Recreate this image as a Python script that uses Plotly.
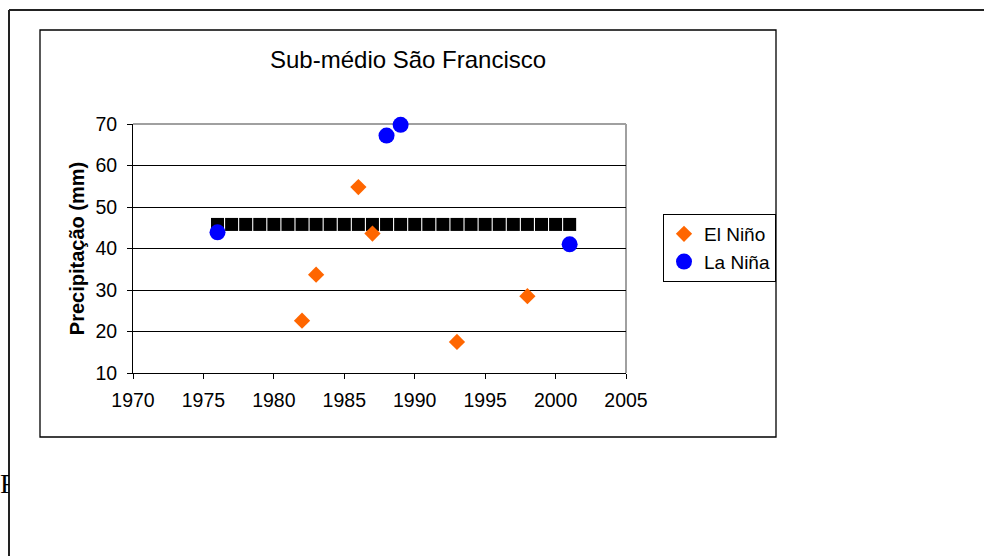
import plotly.graph_objects as go

# ---- data ----
nino_years = [1982, 1983, 1986, 1987, 1993, 1998]
nino_vals = [22.6, 33.7, 54.8, 43.6, 17.5, 28.5]
nina_years = [1976, 1988, 1989, 2001]
nina_vals = [43.9, 67.2, 69.8, 41.0]
mean_years = [1976, 1977, 1978, 1979, 1980, 1981, 1982, 1983, 1984, 1985, 1986, 1987, 1988,
              1989, 1990, 1991, 1992, 1993, 1994, 1995, 1996, 1997, 1998, 1999, 2000, 2001]
mean_vals = [45.8, 45.8, 45.8, 45.8, 45.8, 45.8, 45.8, 45.8, 45.8, 45.8, 45.8, 45.8, 45.8,
             45.8, 45.8, 45.8, 45.8, 45.8, 45.8, 45.8, 45.8, 45.8, 45.8, 45.8, 45.8, 45.8]
title_text = "Sub-médio São Francisco"
y_title = "Precipitação (mm)"
x_ticks = [1970, 1975, 1980, 1985, 1990, 1995, 2000, 2005]
y_ticks = [10, 20, 30, 40, 50, 60, 70]

# ---- layout geometry (pixels) ----
W, H = 984, 556
L, R, T, B = 133, 626, 124, 373
PW, PH = R - L, B - T


def px(x):
    return (x - L) / PW


def py(y):
    return (B - y) / PH


FONT = "Liberation Sans, Arial, sans-serif"

fig = go.Figure()
fig.add_trace(go.Scatter(
    x=mean_years, y=mean_vals, mode="markers", showlegend=False,
    marker=dict(symbol="square", size=13, color="black"), cliponaxis=False))
fig.add_trace(go.Scatter(
    x=nino_years, y=nino_vals, mode="markers", name="El Niño",
    marker=dict(symbol="diamond", size=12.5, color="#FF6600"), cliponaxis=False))
fig.add_trace(go.Scatter(
    x=nina_years, y=nina_vals, mode="markers", name="La Niña",
    marker=dict(symbol="circle", size=16, color="#0000FF"), cliponaxis=False))

shapes = [
    # outer page frame
    dict(type="line", xref="paper", yref="paper", x0=px(9), x1=px(990), y0=py(10), y1=py(10),
         line=dict(color="#222", width=2), layer="above"),
    dict(type="line", xref="paper", yref="paper", x0=px(9), x1=px(9), y0=py(10), y1=py(560),
         line=dict(color="#222", width=2), layer="above"),
    # chart box
    dict(type="rect", xref="paper", yref="paper", x0=px(40), x1=px(776), y0=py(437), y1=py(30),
         line=dict(color="black", width=1.3), layer="below"),
    # plot area top/right border (gray)
    dict(type="line", xref="paper", yref="paper", x0=0, x1=1, y0=1, y1=1,
         line=dict(color="#a0a0a0", width=2), layer="between"),
    dict(type="line", xref="paper", yref="paper", x0=1, x1=1, y0=0, y1=1,
         line=dict(color="#a0a0a0", width=2), layer="between"),
]

annotations = [
    dict(text=title_text, xref="paper", yref="paper", x=px(408), y=py(60),
         xanchor="center", yanchor="middle", showarrow=False,
         font=dict(family=FONT, size=24, color="black")),
    dict(text="F", xref="paper", yref="paper", x=px(-2), y=py(483),
         xanchor="left", yanchor="middle", showarrow=False, width=9, align="left",
         font=dict(family="Liberation Serif, Times New Roman, serif", size=28, color="black")),
]

fig.update_layout(
    width=W, height=H, autosize=False,
    margin=dict(l=L, r=W - R, t=T, b=H - B, pad=0),
    paper_bgcolor="white", plot_bgcolor="white",
    font=dict(family=FONT, size=19, color="black"),
    shapes=shapes, annotations=annotations,
    legend=dict(x=px(719.5), y=py(248), xanchor="center", yanchor="middle",
                bordercolor="black", borderwidth=1, bgcolor="white",
                font=dict(family=FONT, size=19, color="black"),
                itemwidth=30, tracegroupgap=0),
    xaxis=dict(range=[1970, 2005], tickvals=x_ticks, ticktext=[str(v) for v in x_ticks],
               ticks="outside", ticklen=5, tickcolor="black", showline=True,
               linecolor="black", linewidth=1, showgrid=False, zeroline=False,
               ticklabelstandoff=5,
               tickfont=dict(family=FONT, size=19.5)),
    yaxis=dict(range=[10, 70], tickvals=y_ticks, ticktext=[str(v) for v in y_ticks],
               ticks="outside", ticklen=5, tickcolor="black", showline=True,
               linecolor="black", linewidth=1, showgrid=True, gridcolor="black",
               gridwidth=1, zeroline=False, ticklabelstandoff=6,
               tickfont=dict(family=FONT, size=19.5),
               title=dict(text="<b>" + y_title + "</b>", standoff=5,
                          font=dict(family=FONT, size=20))),
)

fig.write_html("out.html")
